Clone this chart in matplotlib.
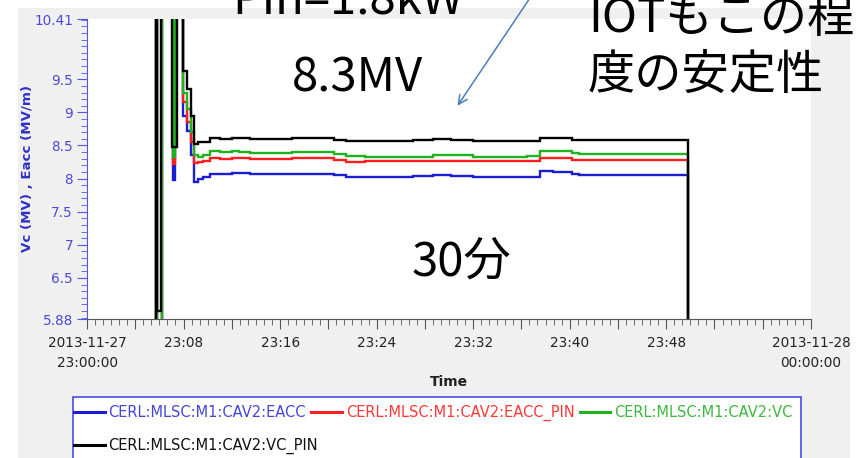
import matplotlib
matplotlib.use("Agg")
import matplotlib.pyplot as plt
from matplotlib.patches import Rectangle, FancyArrowPatch
from matplotlib.lines import Line2D
from matplotlib.ticker import FixedLocator, MultipleLocator, FuncFormatter
import numpy as np
import pandas as pd

W, H = 865, 458
T0 = pd.Timestamp("2013-11-27 23:00:00")

# minutes after 23:00
t_min = [5.00, 5.68, 5.72, 5.76, 5.80, 6.12, 6.20, 6.24,
         7.08, 7.12, 7.30, 7.42, 7.95, 8.30, 8.65, 8.90,
         9.20, 9.60, 10.2, 11.0, 12.0, 12.6, 13.5, 15.0, 17.0, 19.5,
         20.5, 21.5, 23.0, 25.0, 27.0, 28.7, 30.2, 32.0, 34.0, 36.5,
         37.5, 38.6, 40.2, 40.8, 43.0, 46.0, 49.8, 50.2]

eacc = [5.20, 5.20, 11.0, 11.0, 5.60, 5.60, 6.70, 11.0,
        11.0, 7.98, 11.0, 11.0, 8.95, 8.72, 8.35, 7.95,
        8.00, 8.03, 8.07, 8.07, 8.09, 8.09, 8.07, 8.07, 8.07, 8.07,
        8.05, 8.03, 8.03, 8.03, 8.04, 8.05, 8.04, 8.03, 8.03, 8.03,
        8.11, 8.10, 8.07, 8.05, 8.05, 8.05, 5.20, 5.20]
eacc_pin = [5.35, 5.35, 11.0, 11.0, 5.75, 5.75, 6.95, 11.0,
            11.0, 8.22, 11.0, 11.0, 9.15, 8.85, 8.55, 8.24,
            8.25, 8.27, 8.31, 8.30, 8.31, 8.31, 8.30, 8.30, 8.31, 8.31,
            8.28, 8.25, 8.26, 8.26, 8.26, 8.27, 8.26, 8.26, 8.26, 8.26,
            8.31, 8.31, 8.28, 8.28, 8.28, 8.28, 5.35, 5.35]
vc = [5.40, 5.40, 11.0, 11.0, 5.80, 5.80, 7.05, 11.0,
      11.0, 8.32, 11.0, 11.0, 9.30, 9.05, 8.70, 8.36,
      8.33, 8.36, 8.41, 8.40, 8.41, 8.40, 8.39, 8.39, 8.40, 8.40,
      8.37, 8.34, 8.33, 8.33, 8.33, 8.35, 8.35, 8.33, 8.33, 8.34,
      8.41, 8.41, 8.38, 8.37, 8.37, 8.37, 5.40, 5.40]
vc_pin = [5.50, 11.0, 11.0, 6.00, 6.00, 11.0, 11.0, 11.0,
          8.48, 8.48, 8.48, 11.0, 9.62, 9.35, 8.95, 8.52,
          8.55, 8.56, 8.61, 8.60, 8.62, 8.61, 8.60, 8.60, 8.61, 8.61,
          8.59, 8.57, 8.57, 8.57, 8.58, 8.60, 8.58, 8.57, 8.57, 8.57,
          8.62, 8.62, 8.59, 8.58, 8.58, 8.58, 5.50, 5.50]

names = ["CERL:MLSC:M1:CAV2:EACC", "CERL:MLSC:M1:CAV2:EACC_PIN",
         "CERL:MLSC:M1:CAV2:VC", "CERL:MLSC:M1:CAV2:VC_PIN"]
colors = ["#1c1cd6", "#ff1e1e", "#1eb41e", "#000000"]
text_colors = ["#4545d8", "#ff3838", "#3cb83c", "#111111"]

y_major = [5.88, 6.5, 7, 7.5, 8, 8.5, 9, 9.5, 10.41]
label_minutes = [0, 8, 16, 24, 32, 40, 48, 60]

fig = plt.figure(figsize=(W / 100, H / 100), dpi=100)
fig.patch.set_facecolor("white")
fig.add_artist(Rectangle((18 / W, 0), (850 - 18) / W, (H - 8) / H,
                         transform=fig.transFigure, facecolor="#f0f0f0",
                         edgecolor="none", zorder=-5))

ax = fig.add_axes([87 / W, 1 - 319 / H, (811 - 87) / W, (319 - 19) / H])
ax.set_facecolor("white")

for vals, c in zip([eacc, eacc_pin, vc, vc_pin], colors):
    ax.plot(t_min, vals, color=c, lw=1.7, drawstyle="steps-post",
            solid_joinstyle="miter")

ax.set_xlim(0, 60)
ax.set_ylim(5.88, 10.41)

for s in ["top", "right"]:
    ax.spines[s].set_visible(False)
ax.spines["left"].set_color("#5555dd")
ax.spines["bottom"].set_color("#555555")

ax.yaxis.set_major_locator(FixedLocator(y_major))
ax.yaxis.set_minor_locator(FixedLocator(np.arange(5.9, 10.41, 0.1)))
ax.yaxis.set_major_formatter(FuncFormatter(lambda v, p: f"{v:g}"))
ax.tick_params(axis="y", which="major", length=7, color="#5555dd",
               labelcolor="#4b4bd6", labelsize=9.8, pad=3)
ax.tick_params(axis="y", which="minor", length=4, color="#5555dd")


def xfmt(m, pos):
    mi = int(round(m))
    if mi not in label_minutes:
        return ""
    ts = T0 + pd.Timedelta(minutes=mi)
    if mi in (0, 60):
        return ts.strftime("%Y-%m-%d\n%H:%M:%S")
    return ts.strftime("%H:%M")


ax.xaxis.set_major_locator(MultipleLocator(4))
ax.xaxis.set_minor_locator(MultipleLocator(2 / 3))
ax.xaxis.set_major_formatter(FuncFormatter(xfmt))
ax.tick_params(axis="x", which="major", length=7, color="#555555",
               labelcolor="#222222", labelsize=9.8, pad=5)
ax.tick_params(axis="x", which="minor", length=4, color="#555555")
for lab in ax.get_xticklabels():
    lab.set_linespacing(1.55)

fig.text(28 / W, 1 - 168 / H, "Vc (MV) , Eacc (MV/m)", rotation=90,
         ha="center", va="center", color="#3030c8", fontsize=9.6,
         fontweight="bold")
fig.text(449 / W, 1 - 382 / H, "Time", ha="center", va="center",
         fontsize=10, fontweight="bold", color="#222222")

# legend box
fig.add_artist(Rectangle((73 / W, -0.1), (801 - 73) / W, 1 - 397 / H + 0.1,
                         transform=fig.transFigure, facecolor="white",
                         edgecolor="#4a4ae6", lw=1.2, zorder=1))
handles = [Line2D([], [], color=c, lw=2.2) for c in colors]
leg_kw = dict(loc="center left", frameon=False, fontsize=10.5,
              handlelength=2.1, handletextpad=0.27, columnspacing=0.35,
              borderpad=0, borderaxespad=0)
leg1 = fig.legend(handles[:3], names[:3], ncol=3,
                  bbox_to_anchor=(74 / W, 1 - 413 / H), **leg_kw)
leg2 = fig.legend(handles[3:], names[3:], ncol=1,
                  bbox_to_anchor=(74 / W, 1 - 446 / H), **leg_kw)
for leg, cols in [(leg1, text_colors[:3]), (leg2, text_colors[3:])]:
    leg.set_zorder(2)
    for txt, c in zip(leg.get_texts(), cols):
        txt.set_color(c)

# slide annotations on top of the chart
jp = ["Noto Sans CJK JP", "DejaVu Sans"]
big = 34
fig.text(232 / W, 1 - 14 / H, "Pin=1.8kW", family=jp, fontsize=big,
         va="baseline", zorder=10)
fig.text(292 / W, 1 - 92 / H, "8.3MV", family=jp, fontsize=big,
         va="baseline", zorder=10)
fig.text(588 / W, 1 - 32 / H, "IOTもこの程", family=jp, fontsize=big,
         va="baseline", zorder=10)
fig.text(588 / W, 1 - 89 / H, "度の安定性", family=jp, fontsize=big,
         va="baseline", zorder=10)
fig.text(412 / W, 1 - 276 / H, "30分", family=jp, fontsize=big,
         va="baseline", zorder=10)
fig.add_artist(FancyArrowPatch((530 / W, 1 + 2 / H), (456 / W, 1 - 108 / H),
                               transform=fig.transFigure, arrowstyle="->",
                               mutation_scale=16, color="#4a7ebb", lw=1.1,
                               zorder=10))

fig.savefig("out.png", dpi=100)
